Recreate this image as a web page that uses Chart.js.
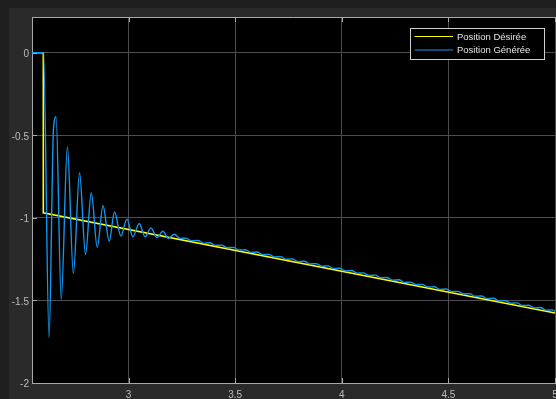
<!DOCTYPE html>
<html>
<head>
<meta charset="utf-8">
<script src="https://cdn.jsdelivr.net/npm/chart.js@4.4.1/dist/chart.umd.min.js"></script>
<style>
  html, body { margin: 0; padding: 0; background: #282828; overflow: hidden; }
  canvas { display: block; }
</style>
</head>
<body>
<canvas id="scope" width="556" height="399"></canvas>
<script>
// Desired position: held at 0, step at t = 2.6 s, then a constant-slope ramp
const desiredT = [2.547, 2.600, 2.600, 5.000];
const desiredY = [0, 0, -0.970, -1.576];

// Generated position: damped oscillation around the ramp, then a small ripple
const generatedT = [
  2.547, 2.601, 2.627, 2.648, 2.660, 2.684, 2.713, 2.741, 2.770, 2.798,
  2.825, 2.853, 2.880, 2.909, 2.934, 2.964, 2.992, 3.020, 3.050, 3.077,
  3.105, 3.133, 3.161, 3.187, 3.214,
  3.242, 3.269, 3.297, 3.325, 3.353, 3.380, 3.408, 3.436, 3.463, 3.491,
  3.519, 3.546, 3.574, 3.602, 3.630, 3.657, 3.685, 3.713, 3.740, 3.768,
  3.796, 3.823, 3.851, 3.879, 3.907, 3.934, 3.962, 3.990, 4.017, 4.045,
  4.073, 4.100, 4.128, 4.156, 4.184, 4.211, 4.239, 4.267, 4.294, 4.322,
  4.350, 4.377, 4.405, 4.433, 4.461, 4.488, 4.516, 4.544, 4.571, 4.599,
  4.627, 4.654, 4.682, 4.710, 4.738, 4.765, 4.793, 4.821, 4.848, 4.876,
  4.904, 4.931, 4.959, 4.987, 5.000
];
const generatedY = [
  0, 0, -1.727, -0.455, -0.388, -1.495, -0.570, -1.337, -0.727, -1.222,
  -0.848, -1.178, -0.927, -1.141, -0.965, -1.111, -1.008, -1.115, -1.034, -1.115,
  -1.061, -1.119, -1.081, -1.125, -1.099,
  -1.125, -1.123, -1.139, -1.137, -1.153, -1.151, -1.167, -1.165, -1.181, -1.179,
  -1.195, -1.193, -1.209, -1.207, -1.223, -1.221, -1.237, -1.235, -1.251, -1.249,
  -1.265, -1.263, -1.279, -1.277, -1.293, -1.291, -1.307, -1.305, -1.321, -1.319,
  -1.335, -1.333, -1.349, -1.347, -1.363, -1.361, -1.377, -1.375, -1.391, -1.389,
  -1.405, -1.403, -1.419, -1.417, -1.433, -1.431, -1.447, -1.445, -1.461, -1.459,
  -1.475, -1.473, -1.489, -1.487, -1.503, -1.501, -1.517, -1.515, -1.531, -1.529,
  -1.545, -1.543, -1.559, -1.557, -1.566
];

const xTicks = [3, 3.5, 4, 4.5, 5];
const yTicks = [-2, -1.5, -1, -0.5, 0];
const seriesNames = ['Position Désirée', 'Position Générée'];

const FONT = "'Liberation Sans', Arial, sans-serif";
const COL_DESIRED = '#ffff00';
const COL_GENERATED = '#1296f0';

const toPoints = (ts, ys) => ts.map((t, i) => ({ x: t, y: ys[i] }));

// Figure background, black axes box, inward tick marks and the legend
const scopeFrame = {
  id: 'scopeFrame',
  beforeDraw(chart) {
    const { ctx, chartArea: a, width, height } = chart;
    ctx.save();
    ctx.fillStyle = '#1f1f1f';
    ctx.fillRect(0, 0, width, height);
    ctx.fillStyle = '#2a2a2a';
    ctx.fillRect(9, 8, width - 9, height - 8);
    ctx.fillStyle = '#000000';
    ctx.fillRect(a.left, a.top, a.right - a.left, a.bottom - a.top);
    ctx.restore();
  },
  afterDraw(chart) {
    const { ctx, chartArea: a, scales } = chart;
    ctx.save();
    ctx.strokeStyle = '#a8a8a8';
    ctx.lineWidth = 1;
    ctx.beginPath();
    ctx.moveTo(a.left, a.top + 0.5);
    ctx.lineTo(a.right, a.top + 0.5);
    xTicks.forEach(v => {
      const px = Math.round(scales.x.getPixelForValue(v)) + 0.5;
      ctx.moveTo(px, a.bottom); ctx.lineTo(px, a.bottom - 5);
      ctx.moveTo(px, a.top); ctx.lineTo(px, a.top + 5);
    });
    yTicks.forEach(v => {
      const py = Math.round(scales.y.getPixelForValue(v)) + 0.5;
      ctx.moveTo(a.left, py); ctx.lineTo(a.left + 5, py);
    });
    ctx.stroke();

    // legend box in the upper right of the axes
    const boxW = 134, boxH = 31;
    const bx = a.right - 11 - boxW, by = a.top + 11;
    ctx.fillStyle = '#000000';
    ctx.fillRect(bx, by, boxW, boxH);
    ctx.strokeStyle = '#cfcfcf';
    ctx.strokeRect(bx + 0.5, by + 0.5, boxW, boxH);
    const colours = [COL_DESIRED, COL_GENERATED];
    ctx.font = '9.5px ' + FONT;
    ctx.textBaseline = 'middle';
    seriesNames.forEach((name, i) => {
      const ly = by + 8.5 + i * 13.5;
      ctx.strokeStyle = colours[i];
      ctx.lineWidth = 1.2;
      ctx.beginPath();
      ctx.moveTo(bx + 4.5, ly); ctx.lineTo(bx + 43, ly);
      ctx.stroke();
      ctx.fillStyle = '#e4e4e4';
      ctx.fillText(name, bx + 47, ly + 0.5);
    });
    ctx.restore();
  }
};

new Chart(document.getElementById('scope'), {
  type: 'line',
  data: {
    datasets: [
      {
        label: seriesNames[1],
        data: toPoints(generatedT, generatedY),
        borderColor: COL_GENERATED,
        borderWidth: 1.4,
        pointRadius: 0,
        cubicInterpolationMode: 'monotone',
        order: 0
      },
      {
        label: seriesNames[0],
        data: toPoints(desiredT, desiredY),
        borderColor: COL_DESIRED,
        borderWidth: 1.6,
        pointRadius: 0,
        tension: 0,
        order: 1
      }
    ]
  },
  options: {
    responsive: false,
    animation: false,
    events: [],
    layout: { padding: { top: 17, right: 1, left: 0, bottom: 0 } },
    plugins: { legend: { display: false }, tooltip: { enabled: false } },
    scales: {
      x: {
        type: 'linear',
        min: 2.547,
        max: 5,
        afterBuildTicks: s => { s.ticks = xTicks.map(v => ({ value: v })); },
        afterFit: s => { s.height = 16; s.paddingLeft = 0; s.paddingRight = 0; },
        grid: { color: '#4d4d4d', lineWidth: 1, drawTicks: false },
        border: { display: true, color: '#a8a8a8', width: 1 },
        ticks: {
          color: '#bdbdbd',
          font: { family: FONT, size: 10 },
          padding: 6,
          maxRotation: 0,
          autoSkip: false,
          callback: v => String(v)
        }
      },
      y: {
        type: 'linear',
        min: -2,
        max: 0.216,
        afterBuildTicks: s => { s.ticks = yTicks.map(v => ({ value: v })); },
        afterFit: s => { s.width = 32; s.paddingTop = 0; s.paddingBottom = 0; },
        grid: { color: '#4d4d4d', lineWidth: 1, drawTicks: false },
        border: { display: true, color: '#a8a8a8', width: 1 },
        ticks: {
          color: '#bdbdbd',
          font: { family: FONT, size: 10 },
          padding: 3,
          labelOffset: 1.5,
          autoSkip: false,
          callback: v => String(v)
        }
      }
    }
  },
  plugins: [scopeFrame]
});
</script>
</body>
</html>
